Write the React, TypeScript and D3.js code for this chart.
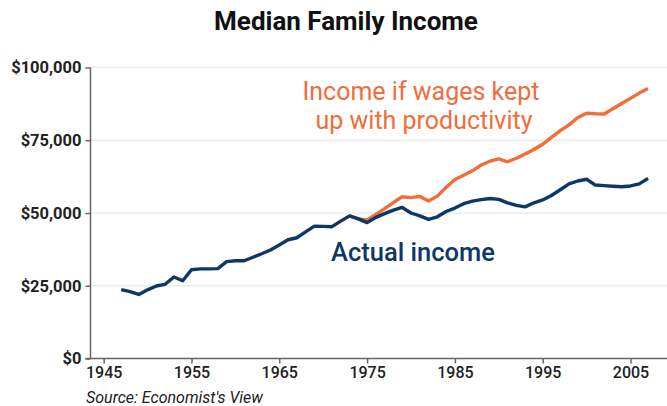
import React, { useEffect, useRef } from "react";
import * as d3 from "d3";

// median family income, thousands of dollars
const actualYears = d3.range(1947, 2008);
const actualIncome = [
  23.7, 23.0, 22.0, 23.6, 24.9, 25.5, 28.0, 26.7, 30.5, 30.8,
  30.8, 30.9, 33.3, 33.6, 33.6, 34.8, 36.0, 37.3, 39.0, 40.8,
  41.5, 43.5, 45.5, 45.4, 45.3, 47.2, 49.0, 48.0, 46.7, 48.5,
  49.8, 51.0, 51.9, 50.0, 49.0, 47.8, 48.7, 50.5, 51.7, 53.2,
  54.1, 54.6, 55.0, 54.7, 53.5, 52.6, 52.1, 53.5, 54.5, 56.0,
  58.0, 60.0, 61.0, 61.6, 59.6, 59.4, 59.2, 59.0, 59.3, 60.0,
  61.9,
];
const productivityYears = d3.range(1973, 2008);
const productivityIncome = [
  49.0, 48.0, 47.6, 49.5, 51.5, 53.6, 55.6, 55.3, 55.7, 54.1,
  55.8, 58.8, 61.5, 63.0, 64.5, 66.5, 67.8, 68.6, 67.6, 68.8,
  70.3, 71.8, 73.6, 76.0, 78.3, 80.3, 82.8, 84.3, 84.1, 84.0,
  85.8, 87.6, 89.4, 91.2, 92.8,
];
const yTicks = [0, 25000, 50000, 75000, 100000];
const xTicks = [1945, 1955, 1965, 1975, 1985, 1995, 2005];

const W = 667;
const H = 406;
const NAVY = "#0c3767";
const ORANGE = "#f26c3c";

export default function App() {
  const ref = useRef<SVGSVGElement>(null);

  useEffect(() => {
    const svg = d3.select(ref.current);
    svg.selectAll("*").remove();

    const x = d3.scaleLinear().domain([1943.5, 2009.5]).range([90.5, 670]);
    const y = d3.scaleLinear().domain([0, 100000]).range([358.5, 67.5]);

    // gridlines
    svg.append("g")
      .selectAll("line")
      .data(yTicks.slice(1))
      .enter().append("line")
      .attr("x1", 91).attr("x2", W)
      .attr("y1", d => y(d)).attr("y2", d => y(d))
      .attr("stroke", "#ececec").attr("stroke-width", 1.5);

    const yAxis = d3.axisLeft(y).tickValues(yTicks).tickSize(5).tickPadding(4)
      .tickFormat(d => "$" + d3.format(",")(+d));
    const gy = svg.append("g").attr("transform", "translate(90.5,0)").call(yAxis);
    gy.select(".domain").attr("stroke", "#666").attr("stroke-width", 1.5)
      .attr("d", `M0,${y(100000)}V${y(0)}`);
    gy.selectAll(".tick line").attr("stroke", "#666").attr("stroke-width", 1.5);
    gy.selectAll(".tick text")
      .style("font-family", "Roboto").style("font-size", "16.5px").style("font-weight", 700)
      .attr("fill", "#222");

    const xAxis = d3.axisBottom(x).tickValues(xTicks).tickSize(5).tickPadding(3)
      .tickFormat(d3.format("d"));
    const gx = svg.append("g").attr("transform", `translate(0,${y(0)})`).call(xAxis);
    gx.select(".domain").attr("stroke", "#666").attr("stroke-width", 1.5)
      .attr("d", `M${x.range()[0] - 5},0H${W}`);
    gx.selectAll(".tick line").attr("stroke", "#666").attr("stroke-width", 1.5);
    gx.selectAll(".tick text")
      .style("font-family", "Roboto").style("font-size", "16px").style("font-weight", 500)
      .attr("fill", "#222");

    const line = d3.line<[number, number]>()
      .x(d => x(d[0])).y(d => y(d[1] * 1000));

    svg.append("path")
      .datum(productivityYears.map((yr, i) => [yr, productivityIncome[i]] as [number, number]))
      .attr("d", line).attr("fill", "none")
      .attr("stroke", ORANGE).attr("stroke-width", 3.4).attr("stroke-linejoin", "round");

    svg.append("path")
      .datum(actualYears.map((yr, i) => [yr, actualIncome[i]] as [number, number]))
      .attr("d", line).attr("fill", "none")
      .attr("stroke", NAVY).attr("stroke-width", 3.4).attr("stroke-linejoin", "round");

    // two separate lines of label text
    svg.append("text")
      .attr("x", 421).attr("y", 100)
      .attr("text-anchor", "middle")
      .style("font-family", "Roboto").style("font-size", "25px")
      .attr("fill", ORANGE)
      .text("Income if wages kept");
    svg.append("text")
      .attr("x", 424).attr("y", 129)
      .attr("text-anchor", "middle")
      .style("font-family", "Roboto").style("font-size", "25px")
      .attr("fill", ORANGE)
      .text("up with productivity");

    svg.append("text")
      .attr("x", 413).attr("y", 261)
      .attr("text-anchor", "middle")
      .style("font-family", "Roboto").style("font-size", "25.5px").style("font-weight", 500)
      .attr("fill", NAVY)
      .text("Actual income");

    svg.append("text")
      .attr("x", 346).attr("y", 30)
      .attr("text-anchor", "middle")
      .style("font-family", "Roboto").style("font-size", "26px").style("font-weight", 700)
      .attr("fill", "#111")
      .text("Median Family Income");

    svg.append("text")
      .attr("x", 86).attr("y", 403)
      .style("font-family", "Roboto").style("font-size", "16px").style("font-style", "italic")
      .attr("fill", "#222")
      .text("Source: Economist's View");
  }, []);

  return (
    <svg ref={ref} width={W} height={H}
      style={{ position: "absolute", left: 0, top: 0, background: "#fff", display: "block" }} />
  );
}
